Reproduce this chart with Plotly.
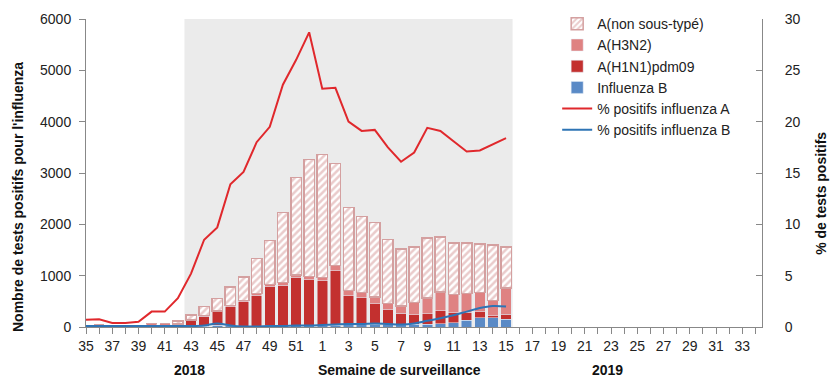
import plotly.graph_objects as go

# ---- data ----
weeks = [str(w) for w in list(range(35, 53)) + list(range(1, 35))]
data_weeks = [str(w) for w in list(range(35, 53)) + list(range(1, 16))]

flu_b =    [15, 15, 10, 10, 10, 15, 15, 5, 10, 10, 30, 20, 15, 15, 20, 20, 25, 25,
            30, 35, 40, 45, 50, 45, 45, 55, 50, 65, 85, 130, 180, 180, 150]
h1n1 =     [0, 0, 0, 0, 0, 0, 0, 40, 115, 200, 270, 375, 480, 608, 760, 795, 933, 894,
            873, 1062, 570, 526, 405, 293, 221, 185, 210, 253, 194, 156, 119, 35, 97]
h3n2 =     [5, 25, 5, 5, 5, 50, 50, 15, 10, 15, 15, 20, 25, 27, 45, 49, 58, 66,
            59, 98, 104, 98, 129, 123, 143, 240, 305, 364, 357, 370, 376, 300, 513]
unsub =    [0, 0, 0, 0, 0, 0, 0, 55, 100, 175, 245, 360, 450, 685, 857, 1371, 1896, 2280,
            2403, 1993, 1617, 1487, 1455, 1247, 1106, 1078, 1169, 1071, 1000, 980, 942, 1084, 798]
pct_a =    [0.7, 0.75, 0.4, 0.4, 0.5, 1.5, 1.5, 2.8, 5.2, 8.5, 9.7, 13.9, 15.1, 18.0, 19.5, 23.6, 26.0, 28.7,
            23.2, 23.3, 20.0, 19.1, 19.2, 17.5, 16.1, 17.0, 19.4, 19.1, 18.1, 17.1, 17.2, 17.8, 18.4]
pct_b =    [0.1, 0.1, 0.1, 0.1, 0.1, 0.1, 0.1, 0.1, 0.1, 0.15, 0.35, 0.15, 0.05, 0.05, 0.1, 0.1, 0.15, 0.15,
            0.2, 0.25, 0.3, 0.3, 0.35, 0.3, 0.25, 0.35, 0.6, 0.85, 1.15, 1.5, 1.85, 2.05, 2.0]

season_start, season_end = "43", "15"

x = [weeks.index(w) for w in data_weeks]
FONT = "Liberation Sans, Arial, sans-serif"

fig = go.Figure()

fig.add_trace(go.Bar(x=x, y=flu_b, name="Influenza B", marker=dict(color="#5a8ac6"), legendrank=4))
fig.add_trace(go.Bar(x=x, y=h1n1, name="A(H1N1)pdm09", marker=dict(color="#c3302f"), legendrank=3))
fig.add_trace(go.Bar(x=x, y=h3n2, name="A(H3N2)", marker=dict(color="#df8282"), legendrank=2))
fig.add_trace(go.Bar(
    x=x, y=unsub, name="A(non sous-typé)", legendrank=1,
    marker=dict(color="#ffffff",
                line=dict(color="#d4a0a0", width=1.5),
                pattern=dict(shape="/", fgcolor="#d59898", bgcolor="#ffffff", size=5, solidity=0.5)),
))
fig.add_trace(go.Scatter(x=x, y=pct_a, name="% positifs influenza A", mode="lines",
                         line=dict(color="#e0282c", width=2), yaxis="y2", legendrank=5))
fig.add_trace(go.Scatter(x=x, y=pct_b, name="% positifs influenza B", mode="lines",
                         line=dict(color="#2e74b5", width=2, shape="spline"), yaxis="y2", legendrank=6))

s0 = weeks.index(season_start) - 0.5
s1 = weeks.index(season_end) + 0.5
fig.add_shape(type="rect", xref="x", yref="paper", x0=s0, x1=s1, y0=0, y1=1,
              fillcolor="#ebebeb", line=dict(width=0), layer="below")

tickvals = list(range(len(weeks)))
ticktext = [w if i % 2 == 0 else "" for i, w in enumerate(weeks)]

fig.update_layout(
    width=840, height=390,
    margin=dict(l=86, r=78, t=19, b=63, autoexpand=False),
    paper_bgcolor="white", plot_bgcolor="white",
    barmode="stack", bargap=0.2,
    font=dict(family=FONT, size=14, color="#222"),
    showlegend=True,
    legend=dict(x=0.697, y=1.035, xanchor="left", yanchor="top", traceorder="normal",
                bgcolor="rgba(0,0,0,0)", font=dict(size=14, color="#222"), tracegroupgap=0),
    xaxis=dict(range=[0, 51.5], tickmode="array", tickvals=tickvals, ticktext=ticktext,
               ticks="outside", ticklen=6, tickcolor="#888", showline=True, linecolor="#888",
               showgrid=False, zeroline=False, tickfont=dict(size=14)),
    yaxis=dict(range=[0, 6000], dtick=1000, showgrid=False, zeroline=False,
               showline=True, linecolor="#888", ticks="outside", ticklen=6, tickcolor="#888",
               ticklabelstandoff=5, tickfont=dict(size=14)),
    yaxis2=dict(range=[0, 30], dtick=5, overlaying="y", side="right", showgrid=False,
                zeroline=False, showline=True, linecolor="#888", ticks="inside", ticklen=6,
                tickcolor="#888", ticklabelstandoff=19, tickfont=dict(size=14)),
    annotations=[
        dict(text="<b>Nombre de tests positifs pour l'influenza</b>", textangle=-90,
             xref="paper", yref="paper", x=-0.1006, y=0.422, showarrow=False,
             xanchor="center", yanchor="middle", font=dict(size=14, color="#111")),
        dict(text="<b>% de tests positifs</b>", textangle=-90,
             xref="paper", yref="paper", x=1.087, y=0.435, showarrow=False,
             xanchor="center", yanchor="middle", font=dict(size=14, color="#111")),
        dict(text="<b>2018</b>", xref="x", yref="paper", x=7.9, y=-0.14, showarrow=False,
             xanchor="center", yanchor="middle", font=dict(size=14, color="#111")),
        dict(text="<b>Semaine de surveillance</b>", xref="x", yref="paper", x=23.9, y=-0.14,
             showarrow=False, xanchor="center", yanchor="middle", font=dict(size=14, color="#111")),
        dict(text="<b>2019</b>", xref="x", yref="paper", x=39.75, y=-0.14, showarrow=False,
             xanchor="center", yanchor="middle", font=dict(size=14, color="#111")),
    ],
)

fig.write_html("out.html", config={"displayModeBar": False},
               post_script="document.body.style.margin='0px';")
